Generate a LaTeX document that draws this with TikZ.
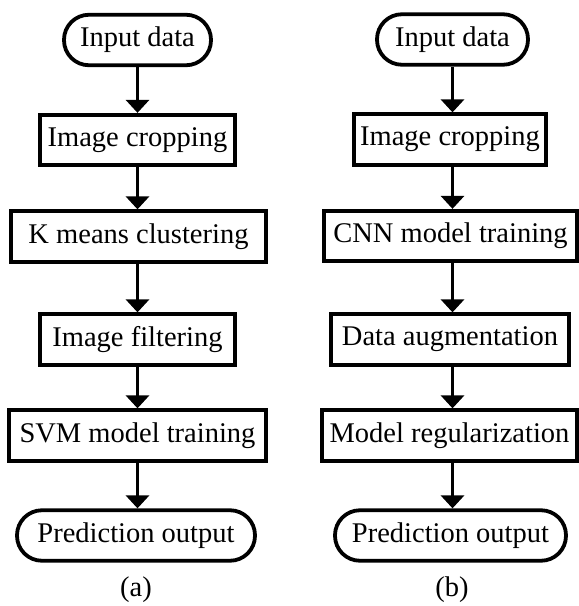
\documentclass[tikz,border=0pt]{standalone}
\usepackage{fontspec}
\setmainfont{Liberation Serif}
\usetikzlibrary{arrows.meta}
\begin{document}
\begin{tikzpicture}[x=1pt,y=-1pt,
  stepbox/.style={draw, line width=3.8pt, minimum height=50.5pt, inner sep=0pt, font=\fontsize{28.5}{30}\selectfont},
  pill/.style={stepbox, rounded corners=25pt},
  flow/.style={line width=3.6pt, -{Triangle[width=23pt,length=13pt]}},
  captxt/.style={font=\fontsize{28.5}{30}\selectfont, inner sep=0pt}]
\useasboundingbox (0,0) rectangle (579,606);
% (a)
\node[pill, minimum width=147pt]   (a1) at (137.5,40)  {Input data};
\node[stepbox, minimum width=195pt] (a2) at (137.5,140) {Image cropping};
\node[stepbox, minimum width=255pt] (a3) at (138.5,236.5) {K means clustering};
\node[stepbox, minimum width=195pt] (a4) at (137.5,339.5) {Image filtering};
\node[stepbox, minimum width=257pt] (a5) at (137.5,435.5) {SVM model training};
\node[pill, minimum width=238pt]   (a6) at (136,535.5) {Prediction output};
\node[captxt] (la) at (136,590) {(a)};
% (b)
\node[pill, minimum width=151pt]   (b1) at (452.5,39.5) {Input data};
\node[stepbox, minimum width=192pt] (b2) at (450,139.5) {Image cropping};
\node[stepbox, minimum width=253pt] (b3) at (450.5,236) {CNN model training};
\node[stepbox, minimum width=238pt] (b4) at (450,339.5) {Data augmentation};
\node[stepbox, minimum width=255pt] (b5) at (449.5,435.5) {Model regularization};
\node[pill, minimum width=231pt]   (b6) at (450.5,535.5) {Prediction output};
\node[captxt] (lb) at (452,590) {(b)};
% connectors
\foreach \i/\j in {1/2,2/3,3/4,4/5,5/6}{
  \draw[flow] (a\i.south -| a1.south) -- (a\j.north -| a1.south);
  \draw[flow] (b\i.south -| b1.south) -- (b\j.north -| b1.south);
}
\end{tikzpicture}
\end{document}
